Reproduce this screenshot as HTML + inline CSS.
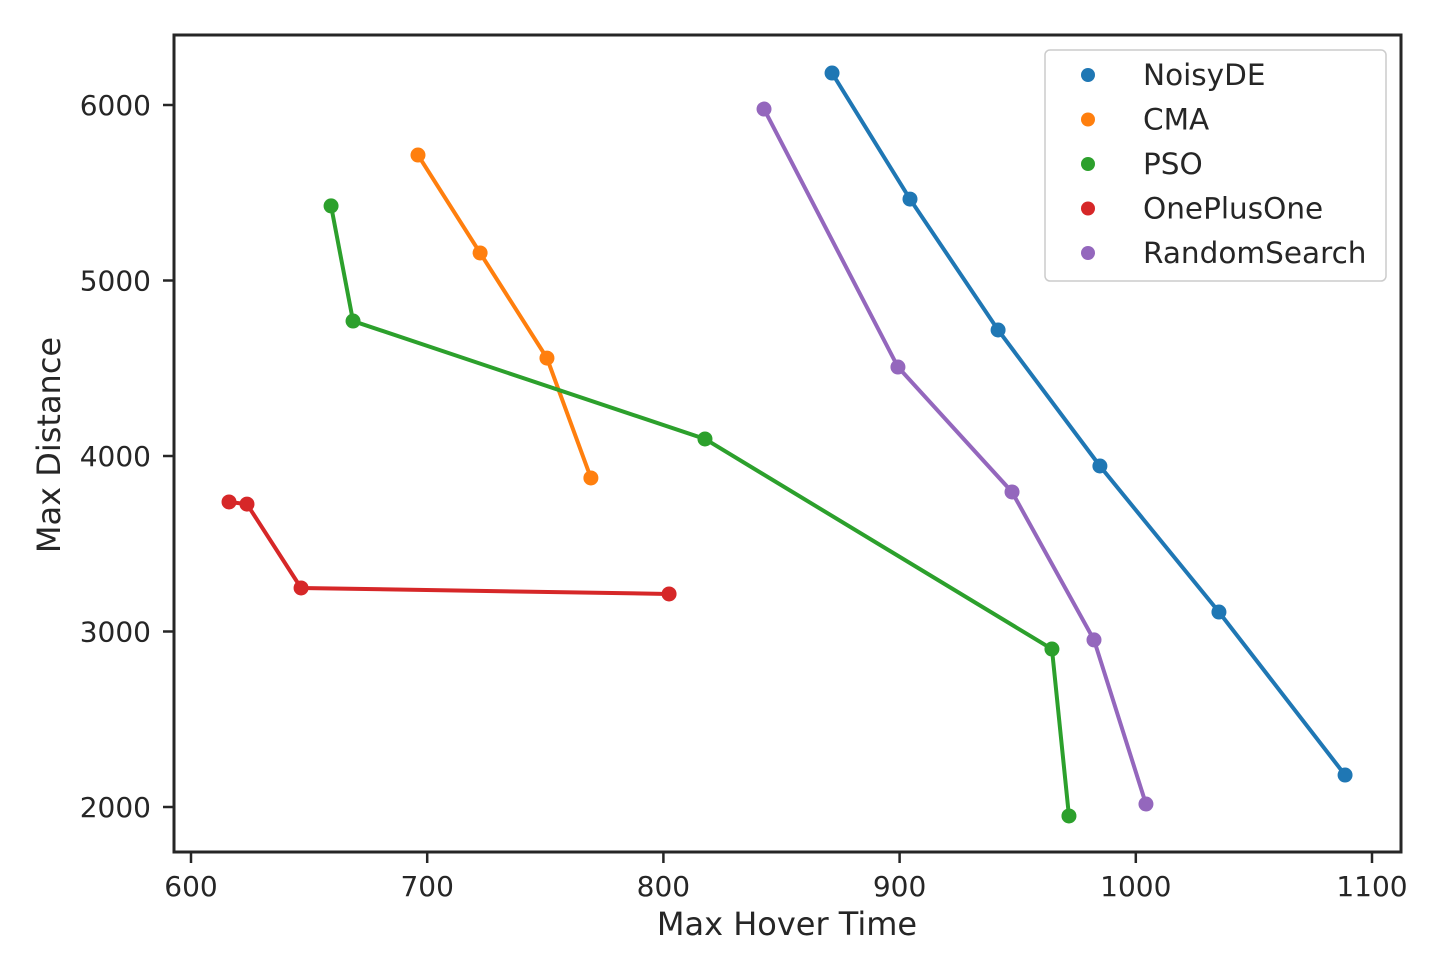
<!DOCTYPE html>
<html><head><meta charset="utf-8"><style>
body{margin:0;background:#fff}
svg{display:block;font-family:"DejaVu Sans","Liberation Sans",sans-serif;fill:#262626}
</style></head><body>
<svg id="chart" width="1450" height="978">
<g id="marks"></g>
<rect x="174" y="35" width="1227" height="817" fill="none" stroke="#262626" stroke-width="3"/>
<g id="axes"></g>
<text x="787" y="935" font-size="32" text-anchor="middle">Max Hover Time</text>
<text transform="translate(60,445) rotate(-90)" font-size="32" text-anchor="middle">Max Distance</text>
<g>
<rect x="1045" y="50" width="341" height="231" rx="5" fill="#fff" stroke="#ccc" stroke-width="1.5"/>
<g id="legend"></g>
</g>
</svg>
<script>
const seriesNames=["NoisyDE","CMA","PSO","OnePlusOne","RandomSearch"];
const colors=["#1f77b4","#ff7f0e","#2ca02c","#d62728","#9467bd"];
const noisyX=[871.4,904.4,941.7,984.8,1035.2,1088.6];
const noisyY=[6182,5464,4718,3943,3111,2182];
const cmaX=[696.1,722.4,750.7,769.3];
const cmaY=[5715,5157,4558,3875];
const psoX=[659.3,668.6,817.6,964.5,971.7];
const psoY=[5425,4769,4097,2900,1949];
const oneX=[616.1,623.7,646.6,802.4];
const oneY=[3738,3726,3248,3214];
const rsX=[842.6,899.3,947.6,982.3,1004.3];
const rsY=[5977,4507,3795,2952,2017];
const xTicks=[600,700,800,900,1000,1100];
const yTicks=[2000,3000,4000,5000,6000];
const xs=[noisyX,cmaX,psoX,oneX,rsX], ys=[noisyY,cmaY,psoY,oneY,rsY];
const NS="http://www.w3.org/2000/svg";
const sx=v=>191+(v-600)*2.362;
const sy=v=>105+(6000-v)*0.1755;
const marks=document.getElementById('marks'), axes=document.getElementById('axes'), leg=document.getElementById('legend');
function mk(tag,attrs,parent){const e=document.createElementNS(NS,tag);for(const k in attrs)e.setAttribute(k,attrs[k]);parent.appendChild(e);return e;}
xTicks.forEach(t=>{
  const l=mk('line',{x1:sx(t),x2:sx(t),y1:852,y2:863,stroke:'#262626','stroke-width':2.5},axes);
  
  
  const tx=mk('text',{x:sx(t),y:896,'font-size':28,'text-anchor':'middle'},axes);tx.textContent=t;
  
  
});
yTicks.forEach(t=>{
  const l=mk('line',{x1:163,x2:174,y1:sy(t),y2:sy(t),stroke:'#262626','stroke-width':2.5},axes);
  
  
  const tx=mk('text',{x:151,y:sy(t)+10,'font-size':28,'text-anchor':'end'},axes);tx.textContent=t;
  
  
});
seriesNames.forEach((n,i)=>{
  const pts=xs[i].map((x,j)=>sx(x)+','+sy(ys[i][j])).join(' ');
  const pl=mk('polyline',{points:pts,fill:'none',stroke:colors[i],'stroke-width':4},marks);
  
  
  xs[i].forEach((x,j)=>{
    const c=mk('circle',{cx:sx(x),cy:sy(ys[i][j]),r:7.5,fill:colors[i]},marks);
    
    
  });
  const y=75+i*44.5;
  const c=mk('circle',{cx:1088,cy:y,r:7,fill:colors[i]},leg);
  
  
  const tx=mk('text',{x:1143,y:y+10,'font-size':29.5},leg);tx.textContent=n;
  
  
});
</script>
</body></html>
